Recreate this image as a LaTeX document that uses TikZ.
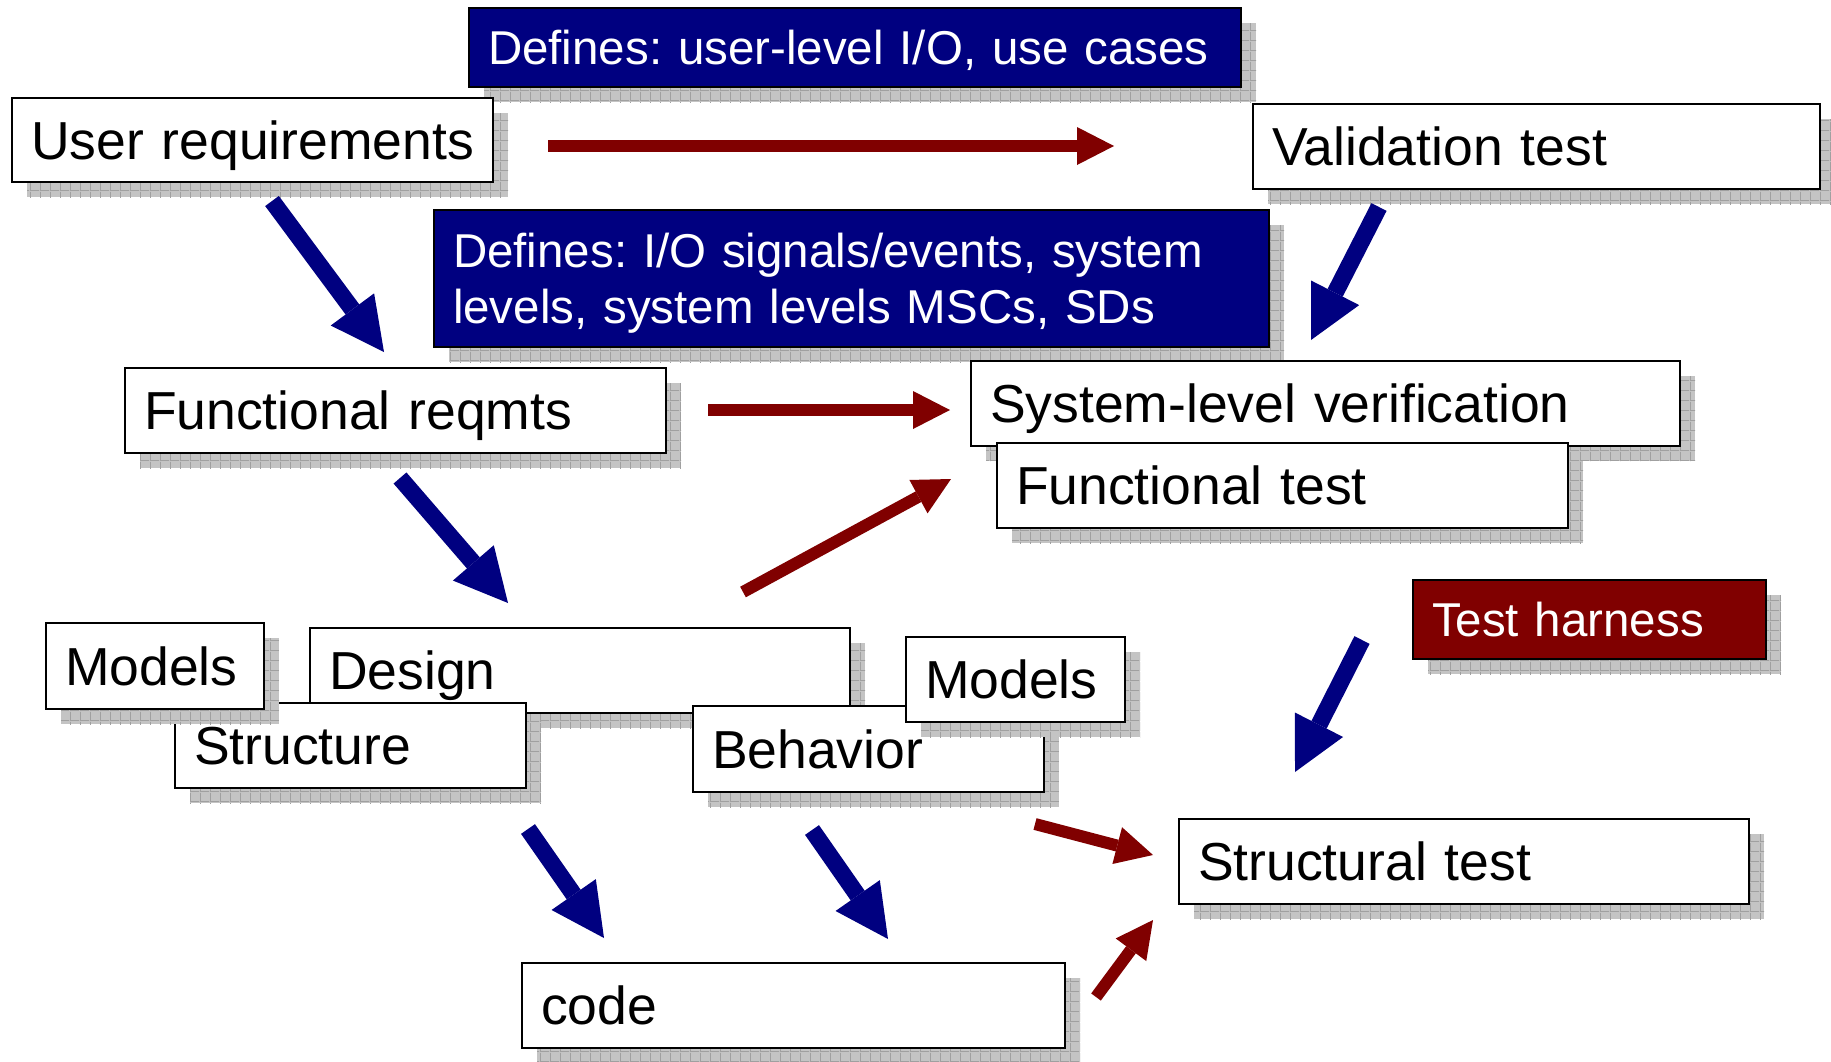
\documentclass[tikz,border=0pt]{standalone}
\usepackage{fontspec}
\setmainfont{Liberation Sans}
\usetikzlibrary{arrows.meta,shadows,patterns.meta}

\definecolor{navyfill}{HTML}{000080}
\definecolor{maroonfill}{HTML}{800000}
\definecolor{shadowgray}{HTML}{C4C4C4}
\definecolor{shadowline}{HTML}{A0A0A0}

% grid texture laid over the drop shadows
\tikzdeclarepattern{
  name=shadowgrid,
  type=uncolored,
  bounding box={(0pt,0pt) and (10pt,10pt)},
  tile size={(10pt,10pt)},
  code={\draw[line width=1pt] (0pt,0.5pt) -- (10pt,0.5pt) (0.5pt,0pt) -- (0.5pt,10pt);}
}

\tikzset{
  % framed box with drop shadow, text flush left
  boxbase/.style={draw=black, line width=2.4pt, fill=white, anchor=north west,
    outer sep=0pt, inner xsep=19pt, inner ysep=0pt, align=left,
    font=\fontsize{53.5}{64}\selectfont\frenchspacing,
    text height=38.3pt, text depth=0pt,
    drop shadow={shadow xshift=15pt, shadow yshift=-15pt, opacity=1,
      fill=shadowgray, draw=none,
      postaction={pattern=shadowgrid, pattern color=shadowline}}},
  % single-line label, never broken
  card/.style={boxbase,
    execute at begin node={\hbox\bgroup},
    execute at end node={\egroup}},
  notefont/.style={text=white, font=\fontsize{47.5}{56}\selectfont\frenchspacing,
    text height=34.2pt},
  note/.style={card, notefont},
  % multi-line note: lines broken by hand
  multinote/.style={boxbase, notefont},
  bluenote/.style={note, fill=navyfill},
  rednote/.style={note, fill=maroonfill},
  bluearrow/.style={draw=navyfill, line width=17pt,
    -{Triangle[width=54pt,length=53pt,line width=0pt]}},
  redarrow/.style={draw=maroonfill, line width=12pt,
    -{Triangle[width=38pt,length=37pt,line width=0pt]}},
}

\begin{document}
\begin{tikzpicture}[x=1pt, y=-1pt]
  \useasboundingbox (0,0) rectangle (1831,1061);

  % top row
  \node[bluenote, text width=734pt, minimum height=79pt] (defuser) at (469,8)
    {Defines: user-level I/O, use cases};
  \node[card, text width=443pt, minimum height=84pt] (ureq) at (12,98)
    {User requirements};
  \node[card, text width=529pt, minimum height=85pt] (valid) at (1253,104)
    {Validation test};

  % second row
  \node[multinote, fill=navyfill, text width=797pt, minimum height=137pt,
    text depth=56pt] (defsys) at (434,210)
    {Defines: I/O signals/events, system\\levels, system levels MSCs, SDs};
  \node[card, text width=503pt, minimum height=85pt] (freq) at (125,368)
    {Functional reqmts};
  \node[card, text width=671pt, minimum height=85pt] (sysver) at (971,361)
    {System-level verification};
  \node[card, text width=533pt, minimum height=85pt] (ftest) at (997,443)
    {Functional test};

  % design cluster
  \node[rednote, text width=315pt, minimum height=79pt] (harness) at (1413,580)
    {Test harness};
  \node[card, text width=502pt, minimum height=85pt] (design) at (310,628)
    {Design};
  \node[card, text width=313pt, minimum height=85pt] (struct) at (175,703)
    {Structure};
  \node[card, text width=180pt, minimum height=86pt] (modelsl) at (46,623)
    {Models};
  \node[card, text width=313pt, minimum height=86pt] (behav) at (693,706)
    {Behavior};
  \node[card, text width=181pt, minimum height=85pt] (modelsr) at (906,637)
    {Models};

  % bottom row
  \node[card, text width=532pt, minimum height=85pt] (stest) at (1179,819)
    {Structural test};
  \node[card, text width=505pt, minimum height=85pt] (code) at (522,963)
    {code};

  % arrow end points
  \coordinate (b1s) at (272,201);  \coordinate (b1e) at (384,352);
  \coordinate (b2s) at (1379,207); \coordinate (b2e) at (1311,340);
  \coordinate (b3s) at (400,478);  \coordinate (b3e) at (508,603);
  \coordinate (b4s) at (1362,640); \coordinate (b4e) at (1295,772);
  \coordinate (b5s) at (528,829);  \coordinate (b5e) at (604,938);
  \coordinate (b6s) at (812,830);  \coordinate (b6e) at (888,939);
  \coordinate (r1s) at (548,146);  \coordinate (r1e) at (1114,146);
  \coordinate (r2s) at (708,410);  \coordinate (r2e) at (950,410);
  \coordinate (r3s) at (743,592);  \coordinate (r3e) at (951,479);
  \coordinate (r4s) at (1035,824); \coordinate (r4e) at (1153,855);
  \coordinate (r5s) at (1096,997); \coordinate (r5e) at (1153,920);

  % refinement arrows
  \draw[bluearrow] (b1s) -- (b1e);
  \draw[bluearrow] (b2s) -- (b2e);
  \draw[bluearrow] (b3s) -- (b3e);
  \draw[bluearrow] (b4s) -- (b4e);
  \draw[bluearrow] (b5s) -- (b5e);
  \draw[bluearrow] (b6s) -- (b6e);

  % test arrows
  \draw[redarrow] (r1s) -- (r1e);
  \draw[redarrow] (r2s) -- (r2e);
  \draw[redarrow] (r3s) -- (r3e);
  \draw[redarrow] (r4s) -- (r4e);
  \draw[redarrow] (r5s) -- (r5e);
\end{tikzpicture}
\end{document}
